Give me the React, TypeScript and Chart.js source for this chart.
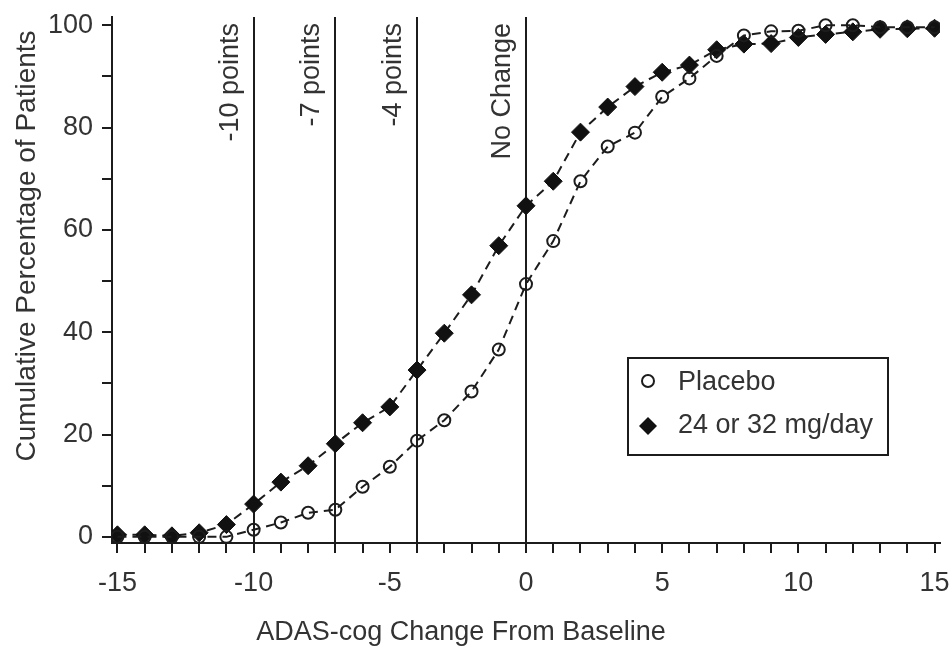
import React, { useEffect, useRef } from 'react';
import { Chart, registerables } from 'chart.js';

Chart.register(...registerables);

// ---- data ----
const X_VALUES = [-15, -14, -13, -12, -11, -10, -9, -8, -7, -6, -5, -4, -3, -2, -1, 0, 1, 2, 3, 4, 5, 6, 7, 8, 9, 10, 11, 12, 13, 14, 15];
const PLACEBO = [0, 0, 0, 0, 0, 1.4, 2.8, 4.7, 5.3, 9.8, 13.7, 18.8, 22.8, 28.4, 36.6, 49.4, 57.8, 69.5, 76.3, 79, 86, 89.6, 94, 98, 98.8, 98.9, 100, 100, 99.6, 99.6, 99.6];
const DRUG = [0.4, 0.4, 0.2, 0.8, 2.4, 6.4, 10.7, 13.9, 18.2, 22.3, 25.4, 32.6, 39.8, 47.3, 56.9, 64.7, 69.5, 79.1, 84, 88, 90.8, 92.2, 95.2, 96.3, 96.4, 97.6, 98.2, 98.7, 99.2, 99.3, 99.4];
const SERIES_NAMES = ['Placebo', '24 or 32 mg/day'];

const X_TICKS = [-15, -14, -13, -12, -11, -10, -9, -8, -7, -6, -5, -4, -3, -2, -1, 0, 1, 2, 3, 4, 5, 6, 7, 8, 9, 10, 11, 12, 13, 14, 15];
const X_TICK_LABELS = [-15, -10, -5, 0, 5, 10, 15];
const Y_TICKS = [0, 10, 20, 30, 40, 50, 60, 70, 80, 90, 100];
const Y_TICK_LABELS = [0, 20, 40, 60, 80, 100];

const REF_LINES = [-10, -7, -4, 0];
const REF_LABELS = ['-10 points', '-7 points', '-4 points', 'No Change'];

const X_TITLE = 'ADAS-cog Change From Baseline';
const Y_TITLE = 'Cumulative Percentage of Patients';

// ---- styles ----
const FAMILY = '"Liberation Sans", Arial, Helvetica, sans-serif';
const FONT = `27px ${FAMILY}`;
const TEXT = '#333333';
const INK = '#1c1c1c';

const overlay = {
  id: 'overlay',
  beforeDatasetsDraw(chart: any) {
    const { ctx, chartArea, scales } = chart;
    const x = scales.x;
    ctx.save();
    ctx.strokeStyle = INK;
    ctx.lineWidth = 2;
    REF_LINES.forEach((v, i) => {
      const px = Math.round(x.getPixelForValue(v));
      ctx.beginPath();
      ctx.moveTo(px, chartArea.top);
      ctx.lineTo(px, chartArea.bottom);
      ctx.stroke();
      ctx.save();
      ctx.translate(px - 16, chartArea.top + 6);
      ctx.rotate(-Math.PI / 2);
      ctx.font = FONT;
      ctx.fillStyle = TEXT;
      ctx.textAlign = 'right';
      ctx.textBaseline = 'alphabetic';
      ctx.fillText(REF_LABELS[i], 0, 0);
      ctx.restore();
    });
    ctx.restore();
  },
  afterDraw(chart: any) {
    const { ctx } = chart;
    ctx.save();
    // legend box
    const bx = 628, by = 358, bw = 260, bh = 97;
    ctx.fillStyle = '#ffffff';
    ctx.fillRect(bx, by, bw, bh);
    ctx.strokeStyle = INK;
    ctx.lineWidth = 2;
    ctx.strokeRect(bx, by, bw, bh);
    // placebo marker
    ctx.beginPath();
    ctx.arc(bx + 20, by + 23, 6, 0, Math.PI * 2);
    ctx.lineWidth = 2;
    ctx.strokeStyle = INK;
    ctx.stroke();
    // drug marker
    const dx = bx + 20, dy = by + 68, r = 9;
    ctx.beginPath();
    ctx.moveTo(dx, dy - r);
    ctx.lineTo(dx + r, dy);
    ctx.lineTo(dx, dy + r);
    ctx.lineTo(dx - r, dy);
    ctx.closePath();
    ctx.fillStyle = '#111111';
    ctx.fill();
    ctx.font = FONT;
    ctx.fillStyle = TEXT;
    ctx.textAlign = 'left';
    ctx.textBaseline = 'middle';
    ctx.fillText(SERIES_NAMES[0], bx + 50, by + 25);
    ctx.fillText(SERIES_NAMES[1], bx + 50, by + 68);
    // axis titles
    ctx.textAlign = 'center';
    ctx.textBaseline = 'alphabetic';
    ctx.fillText(X_TITLE, 461, 640);
    ctx.font = `28px ${FAMILY}`;
    ctx.translate(27, 246);
    ctx.rotate(-Math.PI / 2);
    ctx.textBaseline = 'middle';
    ctx.fillText(Y_TITLE, 0, 0);
    ctx.restore();
  },
};

export default function App() {
  const ref = useRef<HTMLCanvasElement | null>(null);
  useEffect(() => {
    if (!ref.current) return;
    const chart = new Chart(ref.current, {
      type: 'scatter',
      data: {
        datasets: [
          {
            label: SERIES_NAMES[0],
            data: X_VALUES.map((x, i) => ({ x, y: PLACEBO[i] })),
            showLine: true,
            borderColor: INK,
            borderWidth: 2,
            borderDash: [9, 6],
            pointStyle: 'circle',
            pointRadius: 6,
            pointBorderWidth: 2,
            pointBorderColor: INK,
            pointBackgroundColor: 'rgba(255,255,255,0)',
          },
          {
            label: SERIES_NAMES[1],
            data: X_VALUES.map((x, i) => ({ x, y: DRUG[i] })),
            showLine: true,
            borderColor: INK,
            borderWidth: 2,
            borderDash: [9, 6],
            pointStyle: 'rectRot',
            pointRadius: 9,
            pointBorderWidth: 1,
            pointBorderColor: '#111111',
            pointBackgroundColor: '#111111',
          },
        ],
      },
      options: {
        responsive: false,
        animation: false,
        events: [],
        layout: { padding: { top: 17, right: 8, left: 0, bottom: 0 } },
        plugins: { legend: { display: false }, tooltip: { enabled: false } },
        scales: {
          x: {
            type: 'linear',
            position: 'bottom',
            min: -15.2,
            max: 15.2,
            afterBuildTicks: (s: any) => {
              s.ticks = X_TICKS.map((v) => ({ value: v }));
            },
            afterFit: (s: any) => {
              s.height = 113;
              s.paddingLeft = 0;
              s.paddingRight = 0;
            },
            ticks: {
              autoSkip: false,
              maxRotation: 0,
              padding: 14,
              color: TEXT,
              font: { family: FAMILY, size: 27 },
              callback: (v: any) => (X_TICK_LABELS.includes(Number(v)) ? String(v) : ''),
            },
            grid: { drawOnChartArea: false, drawTicks: true, tickLength: 10, color: INK, lineWidth: 2 },
            border: { display: true, color: INK, width: 2 },
          },
          y: {
            type: 'linear',
            min: -1.2,
            max: 101.6,
            afterBuildTicks: (s: any) => {
              s.ticks = Y_TICKS.map((v) => ({ value: v }));
            },
            afterFit: (s: any) => {
              s.width = 112;
              s.paddingTop = 0;
              s.paddingBottom = 0;
            },
            ticks: {
              autoSkip: false,
              padding: 9,
              color: TEXT,
              font: { family: FAMILY, size: 27 },
              callback: (v: any) => (Y_TICK_LABELS.includes(Number(v)) ? String(v) : ''),
            },
            grid: { drawOnChartArea: false, drawTicks: true, tickLength: 10, color: INK, lineWidth: 2 },
            border: { display: true, color: INK, width: 2 },
          },
        },
      },
      plugins: [overlay],
    } as any);
    return () => chart.destroy();
  }, []);
  return (
    <div style={{ position: 'absolute', left: 0, top: 0, width: 950, height: 656, background: '#fff' }}>
      <canvas ref={ref} width={950} height={656} />
    </div>
  );
}
